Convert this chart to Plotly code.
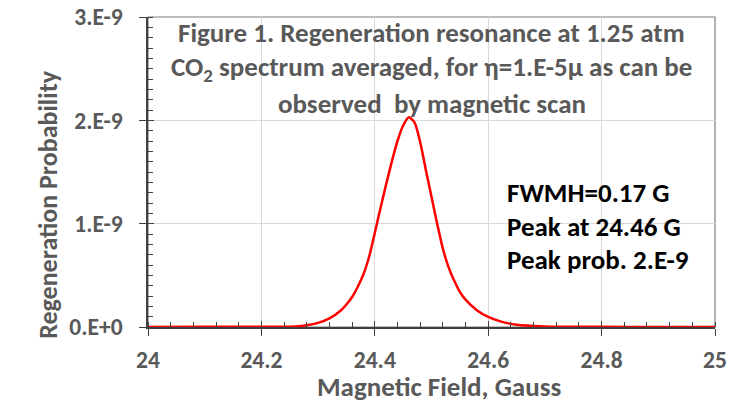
import plotly.graph_objects as go

# Data (field in Gauss, probability)
field = [24.00, 24.10, 24.20, 24.26, 24.28, 24.30, 24.32, 24.34, 24.35, 24.36,
         24.37, 24.38, 24.39, 24.40, 24.41, 24.42, 24.43, 24.44, 24.45, 24.46,
         24.47, 24.48, 24.49, 24.50, 24.51, 24.52, 24.53, 24.54, 24.55, 24.56,
         24.58, 24.60, 24.62, 24.65, 24.70, 24.80, 24.90, 25.00]
prob = [0.5e-12, 1.5e-12, 3e-12, 6e-12, 17e-12, 40e-12, 83e-12, 160e-12, 218e-12, 290e-12,
        390e-12, 510e-12, 680e-12, 0.91e-9, 1.15e-9, 1.38e-9, 1.60e-9, 1.80e-9, 1.95e-9, 2.03e-9,
        1.98e-9, 1.79e-9, 1.52e-9, 1.26e-9, 1.00e-9, 0.76e-9, 0.58e-9, 0.45e-9, 0.34e-9, 0.265e-9,
        163e-12, 97e-12, 57e-12, 21e-12, 6e-12, 1.5e-12, 0.6e-12, 0.3e-12]

x_ticks = [24, 24.2, 24.4, 24.6, 24.8, 25]
x_ticktext = ["24", "24.2", "24.4", "24.6", "24.8", "25"]
y_ticks = [0, 1e-9, 2e-9, 3e-9]
y_ticktext = ["0.E+0", "1.E-9", "2.E-9", "3.E-9"]

title_lines = ["Figure 1. Regeneration resonance at 1.25 atm",
               "CO<sub>2</sub> spectrum averaged, for η=1.E-5μ as can be",
               "observed  by magnetic scan"]
info_lines = ["FWMH=0.17 G", "Peak at 24.46 G", "Peak prob. 2.E-9"]

FONT = "Carlito, Lato, 'Open Sans', sans-serif"
GREY = "#595959"
AX = "#404040"

fig = go.Figure()
fig.add_trace(go.Scatter(x=field, y=prob, mode="lines",
                         line=dict(color="#ff0000", width=2.5, shape="spline", smoothing=0.7),
                         showlegend=False, hoverinfo="skip"))
fig.add_trace(go.Scatter(x=[], y=[], xaxis="x2", yaxis="y", showlegend=False))
fig.add_trace(go.Scatter(x=[], y=[], xaxis="x", yaxis="y2", showlegend=False))

xr = [24, 25]
yr = [0, 3e-9]
W, H = 742, 407
PL, PT, PW, PH = 148, 17, 567, 310.3

fig.update_layout(
    width=W, height=H,
    margin=dict(l=PL, r=W - PL - PW, t=PT, b=H - PT - PH, autoexpand=False),
    paper_bgcolor="white", plot_bgcolor="white",
    font=dict(family=FONT, color=GREY),
    xaxis=dict(range=xr, tickvals=x_ticks, ticktext=x_ticktext, automargin=False,
               ticks="outside", ticklen=7, tickwidth=1.3, tickcolor=AX,
               showline=True, linecolor=AX, linewidth=1.5,
               showgrid=True, gridcolor="#d9d9d9", gridwidth=1, zeroline=False,
               tickfont=dict(family=FONT, size=23.5, color=GREY, weight="bold"),
               ticklabelstandoff=4, ticklabeloverflow="allow",
               minor=dict(dtick=0.04, ticks="inside", ticklen=5, tickwidth=1.1,
                          tickcolor=AX, showgrid=False)),
    xaxis2=dict(range=xr, overlaying="x", anchor="y", side="bottom", tickvals=x_ticks,
                automargin=False,
                ticks="inside", ticklen=6, tickwidth=1.3, tickcolor=AX,
                showticklabels=False, showgrid=False, showline=False, zeroline=False),
    yaxis=dict(range=yr, tickvals=y_ticks, ticktext=y_ticktext, automargin=False,
               ticks="outside", ticklen=7, tickwidth=1.3, tickcolor=AX,
               showline=True, linecolor=AX, linewidth=1.5,
               showgrid=True, gridcolor="#d9d9d9", gridwidth=1, zeroline=False,
               tickfont=dict(family=FONT, size=23.5, color=GREY, weight="bold"),
               ticklabelstandoff=12, ticklabeloverflow="allow",
               minor=dict(dtick=1e-10, ticks="inside", ticklen=5, tickwidth=1.1,
                          tickcolor=AX, showgrid=False)),
    yaxis2=dict(range=yr, overlaying="y", anchor="x", side="left", tickvals=y_ticks,
                automargin=False,
                ticks="inside", ticklen=6, tickwidth=1.3, tickcolor=AX,
                showticklabels=False, showgrid=False, showline=False, zeroline=False),
)

fig.add_shape(type="rect", xref="paper", yref="paper", x0=0, x1=1, y0=0, y1=1,
              line=dict(color="#7f7f7f", width=1.2), layer="below")


def py(ypx):
    return (PT + PH - ypx) / PH


def px(xpx):
    return (xpx - PL) / PW


title_y = [33, 68.5, 104]
for txt, yy in zip(title_lines, title_y):
    fig.add_annotation(text=txt, xref="paper", yref="paper", x=0.5, y=py(yy),
                       xanchor="center", yanchor="middle", showarrow=False,
                       font=dict(family=FONT, size=27, color=GREY, weight="bold"))

info_y = [192.5, 226.5, 260]
for txt, yy in zip(info_lines, info_y):
    fig.add_annotation(text=txt, xref="paper", yref="paper", x=px(505), y=py(yy),
                       xanchor="left", yanchor="middle", showarrow=False,
                       font=dict(family=FONT, size=27, color="#000000", weight="bold"))

fig.add_annotation(text="Magnetic Field, Gauss", xref="paper", yref="paper",
                   x=px(438.5), y=py(387),
                   xanchor="center", yanchor="middle", showarrow=False,
                   font=dict(family=FONT, size=27, color=GREY, weight="bold"))
fig.add_annotation(text="Regeneration Probability", xref="paper", yref="paper",
                   x=px(48), y=py(205), textangle=-90,
                   xanchor="center", yanchor="middle", showarrow=False,
                   font=dict(family=FONT, size=26, color=GREY, weight="bold"))

fig.write_html("out.html", config={"displayModeBar": False},
               post_script="document.body.style.margin='0';document.body.style.overflow='hidden';")
